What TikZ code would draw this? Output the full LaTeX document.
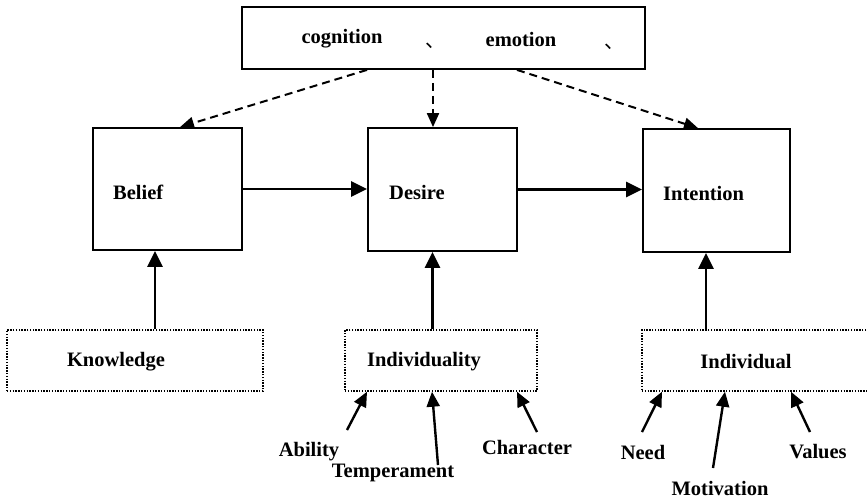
\documentclass[tikz,border=0pt]{standalone}
\usepackage{fontspec}
\setmainfont{Liberation Serif}
\newfontfamily\cjk{Noto Sans CJK SC}
\usetikzlibrary{arrows.meta}
\usetikzlibrary{calc}

\begin{document}
\begin{tikzpicture}[x=1pt, y=-1pt,
	every node/.style={font=\fontsize{20.5}{24}\selectfont\bfseries, inner sep=0pt},
	solidbox/.style={draw, line width=1.8pt},
	dotbox/.style={draw, line width=1.4pt, dash pattern=on 1.4pt off 1.4pt},
	arr/.style={line width=2.4pt, -{Triangle[length=16pt, width=15pt]}},
	dasharr/.style={line width=2pt, dash pattern=on 8pt off 5pt, -{Triangle[length=14pt, width=12pt]}},
	feed/.style={line width=2.4pt, -{Triangle[length=15pt, width=13pt]}}]
	% page: 868 x 499, the Individual box runs off the right edge
	\useasboundingbox (0, 0) rectangle (868, 499);
	\clip (0, 0) rectangle (868, 499);
	
	% top box
	\node[solidbox, minimum width=403pt, minimum height=62pt] (top) at (443.5, 38) {};
	\node (cognition) at (342, 39) {cognition};
	\node[anchor=base west, font=\fontsize{20}{22}\selectfont\cjk] (comma1) at (425, 47) {、};
	\node (emotion) at (521, 39) {emotion};
	\node[anchor=base west, font=\fontsize{20}{22}\selectfont\cjk] (comma2) at (604, 48) {、};
	
	% middle row
	\node[solidbox, minimum width=149pt, minimum height=122pt] (belief) at (167.5, 189) {};
	\node[solidbox, minimum width=149pt, minimum height=123pt] (desire) at (442.5, 189.5) {};
	\node[solidbox, minimum width=147pt, minimum height=123pt] (intention) at (716.5, 190.5) {};
	\node[anchor=west] (belieftxt) at (113, 192) {Belief};
	\node[anchor=west] (desiretxt) at (389, 192) {Desire};
	\node[anchor=west] (intentiontxt) at (663, 193) {Intention};
	
	% bottom row
	\node[dotbox, minimum width=256pt, minimum height=61pt] (knowledge) at (135, 360.5) {};
	\node[dotbox, minimum width=192pt, minimum height=61pt] (individuality) at (441, 360.5) {};
	\node[dotbox, minimum width=258pt, minimum height=61pt] (individual) at (771, 360.5) {};
	\node (knowledgetxt) at (116, 362) {Knowledge};
	\node (individualitytxt) at (424, 362) {Individuality};
	\node (individualtxt) at (746, 362) {Individual};
	
	% labels under the boxes
	\node (ability) at (309, 452) {Ability};
	\node (temperament) at (393, 473) {Temperament};
	\node (character) at (527, 447) {Character};
	\node (need) at (643, 452) {Need};
	\node (motivation) at (720, 488) {Motivation};
	\node (values) at (818, 452) {Values};
	
	% dashed arrows from the top box
	\draw[dasharr] ([xshift=-76.5pt]top.south) -- ([xshift=12.5pt]belief.north);
	\draw[dasharr] ([xshift=-10.5pt]top.south) -- ([xshift=-9.5pt]desire.north);
	\draw[dasharr] ([xshift=73.5pt]top.south) -- ([xshift=-18.5pt]intention.north);
	
	% left to right
	\draw[arr] (belief.east) -- (belief.east -| desire.west);
	\draw[arr] (desire.east) -- (desire.east -| intention.west);
	
	% bottom boxes up
	\coordinate (kx) at (155, 0);
	\coordinate (dx) at (432.5, 0);
	\coordinate (ix) at (706, 0);
	\draw[arr] (knowledge.north -| kx) -- (belief.south -| kx);
	\draw[arr] (individuality.north -| dx) -- (desire.south -| dx);
	\draw[arr] (individual.north -| ix) -- (intention.south -| ix);
	
	% feeders
	\coordinate (abilityend) at (347, 430);
	\coordinate (temperamentend) at (438, 465);
	\coordinate (characterend) at (537, 432);
	\coordinate (needend) at (642, 432);
	\coordinate (motivationend) at (713, 468);
	\coordinate (valuesend) at (810, 432);
	\draw[feed] (abilityend) -- ([xshift=-74pt]individuality.south);
	\draw[feed] (temperamentend) -- ([xshift=-9pt]individuality.south);
	\draw[feed] (characterend) -- ([xshift=76pt]individuality.south);
	\draw[feed] (needend) -- ([xshift=-109pt]individual.south);
	\draw[feed] (motivationend) -- ([xshift=-46pt]individual.south);
	\draw[feed] (valuesend) -- ([xshift=20pt]individual.south);
	
\end{tikzpicture}
\end{document}
